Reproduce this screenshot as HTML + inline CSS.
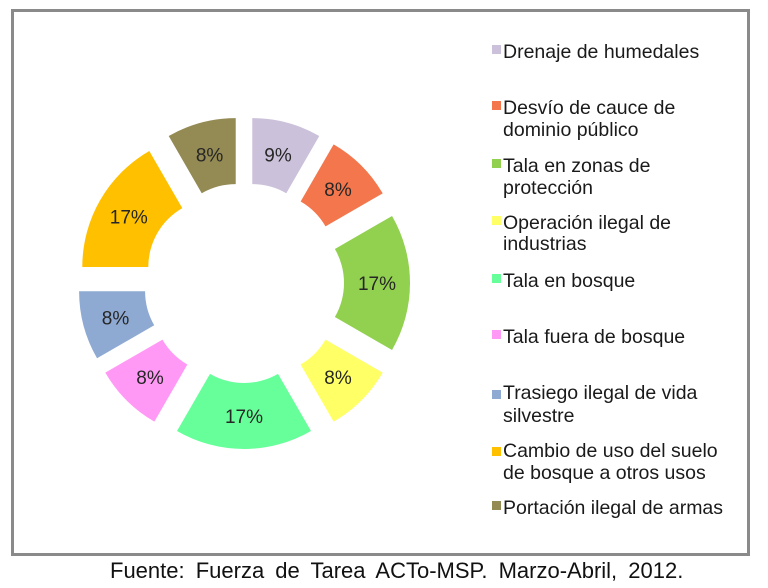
<!DOCTYPE html>
<html>
<head>
<meta charset="utf-8">
<style>
html,body{margin:0;padding:0;background:#fff;}
svg{display:block;}
text{font-family:"Liberation Sans", Arial, sans-serif;}
</style>
</head>
<body>
<svg width="768" height="588" viewBox="0 0 768 588" xmlns="http://www.w3.org/2000/svg">
<rect x="0" y="0" width="768" height="588" fill="#fff"/>
<rect x="12.5" y="10.5" width="736" height="544" fill="#fff" stroke="#8a8a8a" stroke-width="3"/>

<g transform="translate(244,283)">
  <path transform="translate(8.28,-30.91)" fill="#ccc1da" d="M0,-134 A134,134 0 0 1 67,-116.05 L34,-58.89 A68,68 0 0 0 0,-68 Z"/>
  <path transform="translate(22.63,-22.63)" fill="#f3764c" d="M67,-116.05 A134,134 0 0 1 116.05,-67 L58.89,-34 A68,68 0 0 0 34,-58.89 Z"/>
  <path transform="translate(32,0)" fill="#92d050" d="M116.05,-67 A134,134 0 0 1 116.05,67 L58.89,34 A68,68 0 0 0 58.89,-34 Z"/>
  <path transform="translate(22.63,22.63)" fill="#ffff66" d="M116.05,67 A134,134 0 0 1 67,116.05 L34,58.89 A68,68 0 0 0 58.89,34 Z"/>
  <path transform="translate(0,32)" fill="#66ff99" d="M67,116.05 A134,134 0 0 1 -67,116.05 L-34,58.89 A68,68 0 0 0 34,58.89 Z"/>
  <path transform="translate(-22.63,22.63)" fill="#ff99f5" d="M-67,116.05 A134,134 0 0 1 -116.05,67 L-58.89,34 A68,68 0 0 0 -34,58.89 Z"/>
  <path transform="translate(-30.91,8.28)" fill="#8eaad3" d="M-116.05,67 A134,134 0 0 1 -134,0 L-68,0 A68,68 0 0 0 -58.89,34 Z"/>
  <path transform="translate(-27.71,-16)" fill="#ffc000" d="M-134,0 A134,134 0 0 1 -67,-116.05 L-34,-58.89 A68,68 0 0 0 -68,0 Z"/>
  <path transform="translate(-8.28,-30.91)" fill="#948a54" d="M-67,-116.05 A134,134 0 0 1 0,-134 L0,-68 A68,68 0 0 0 -34,-58.89 Z"/>
</g>

<g font-size="19" fill="#262626" text-anchor="middle">
  <text x="278" y="161.5">9%</text>
  <text x="338" y="196">8%</text>
  <text x="377" y="290">17%</text>
  <text x="338" y="384">8%</text>
  <text x="244" y="423">17%</text>
  <text x="150" y="384">8%</text>
  <text x="115.5" y="324.5">8%</text>
  <text x="128.8" y="223.5">17%</text>
  <text x="209.6" y="161.5">8%</text>
</g>

<g>
  <rect x="492" y="45" width="9" height="9" fill="#ccc1da"/>
  <rect x="492" y="101" width="9" height="9" fill="#f3764c"/>
  <rect x="492" y="159" width="9" height="9" fill="#92d050"/>
  <rect x="492" y="216" width="9" height="9" fill="#ffff66"/>
  <rect x="492" y="274" width="9" height="9" fill="#66ff99"/>
  <rect x="492" y="330" width="9" height="9" fill="#ff99f5"/>
  <rect x="492" y="390" width="9" height="9" fill="#8eaad3"/>
  <rect x="492" y="447" width="9" height="9" fill="#ffc000"/>
  <rect x="492" y="501" width="9" height="9" fill="#948a54"/>
</g>
<g font-size="19.5" fill="#1a1a1a">
  <text x="503" y="58">Drenaje de humedales</text>
  <text x="503" y="114">Desvío de cauce de</text>
  <text x="503" y="136">dominio público</text>
  <text x="503" y="172">Tala en zonas de</text>
  <text x="503" y="194">protección</text>
  <text x="503" y="229">Operación ilegal de</text>
  <text x="503" y="250">industrias</text>
  <text x="503" y="287">Tala en bosque</text>
  <text x="503" y="343">Tala fuera de bosque</text>
  <text x="503" y="399">Trasiego ilegal de vida</text>
  <text x="503" y="422">silvestre</text>
  <text x="503" y="457">Cambio de uso del suelo</text>
  <text x="503" y="479">de bosque a otros usos</text>
  <text x="503" y="514">Portación ilegal de armas</text>
</g>

<text x="110" y="578" font-size="22" fill="#111" word-spacing="5">Fuente: Fuerza de Tarea ACTo-MSP. Marzo-Abril, 2012.</text>
</svg>
</body>
</html>
